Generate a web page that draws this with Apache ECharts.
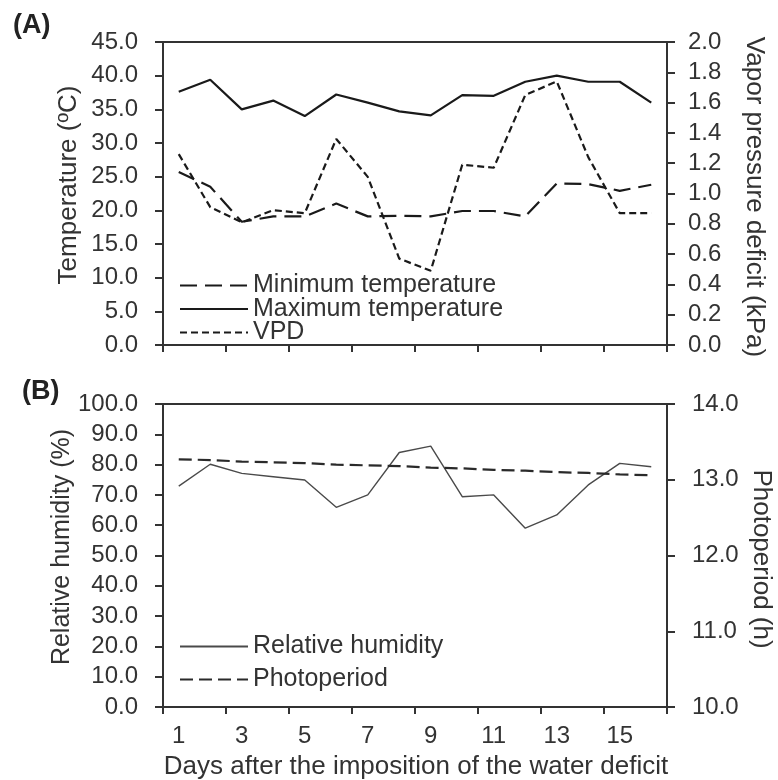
<!DOCTYPE html>
<html>
<head>
<meta charset="utf-8">
<script src="https://cdn.jsdelivr.net/npm/echarts@6/dist/echarts.min.js"></script>
<style>
html,body{margin:0;padding:0;background:#fff;}
#chart{width:778px;height:780px;}
</style>
</head>
<body>
<div id="chart"></div>
<script>
var days = ['1','2','3','4','5','6','7','8','9','10','11','12','13','14','15','16'];
var minTemp = [25.7, 23.5, 18.3, 19.1, 19.1, 21.0, 19.1, 19.2, 19.1, 19.9, 19.9, 19.1, 24.0, 23.9, 22.9, 23.8];
var maxTemp = [37.6, 39.4, 35.0, 36.3, 34.0, 37.2, 36.0, 34.7, 34.1, 37.1, 37.0, 39.1, 40.0, 39.1, 39.1, 36.0];
var vpd = [1.26, 0.91, 0.81, 0.89, 0.87, 1.36, 1.11, 0.57, 0.49, 1.19, 1.17, 1.65, 1.74, 1.24, 0.87, 0.87];
var relHumidity = [72.9, 80.1, 77.1, 76.0, 74.9, 65.9, 70.0, 84.0, 86.1, 69.4, 70.0, 59.0, 63.4, 73.3, 80.4, 79.3];
var photoperiod = [13.27, 13.26, 13.24, 13.23, 13.22, 13.20, 13.19, 13.18, 13.16, 13.15, 13.13, 13.12, 13.10, 13.09, 13.07, 13.06];

var FONT = "'Liberation Sans', Arial, sans-serif";
var TXT = '#333';
var AX = '#333';

function yAxisCfg(opts) {
  return Object.assign({
    type: 'value',
    axisLine: {show: true, lineStyle: {color: AX, width: 2}},
    axisTick: {show: true, length: 8, lineStyle: {color: AX, width: 2}},
    splitLine: {show: false}
  }, opts);
}
function xAxisCfg(opts) {
  return Object.assign({
    type: 'category',
    data: days,
    boundaryGap: true,
    axisLine: {show: true, lineStyle: {color: AX, width: 2}},
    axisTick: {show: true, interval: 1, length: 7, lineStyle: {color: AX, width: 2}},
    splitLine: {show: false}
  }, opts);
}
function fmt1(v) { return v.toFixed(1); }

var chart = echarts.init(document.getElementById('chart'), null, {renderer: 'canvas'});
var option = {
  backgroundColor: '#fff',
  animation: false,
  textStyle: {fontFamily: FONT, color: TXT},
  grid: [
    {left: 163, right: 111, top: 42, height: 303, show: true, borderColor: AX, borderWidth: 2, backgroundColor: 'transparent'},
    {left: 163, right: 111, top: 404, height: 303, show: true, borderColor: AX, borderWidth: 2, backgroundColor: 'transparent'}
  ],
  xAxis: [
    xAxisCfg({gridIndex: 0, axisLabel: {show: false}}),
    xAxisCfg({gridIndex: 1, axisLabel: {show: true, interval: 1, color: TXT, fontSize: 24, fontFamily: FONT, margin: 17}})
  ],
  yAxis: [
    yAxisCfg({gridIndex: 0, min: 0, max: 45, interval: 5, position: 'left', axisLabel: {color: TXT, fontSize: 24, fontFamily: FONT, margin: 25, formatter: fmt1}}),
    yAxisCfg({gridIndex: 0, min: 0, max: 2, interval: 0.2, position: 'right', axisLabel: {color: TXT, fontSize: 24, fontFamily: FONT, margin: 21, formatter: fmt1}}),
    yAxisCfg({gridIndex: 1, min: 0, max: 100, interval: 10, position: 'left', axisLabel: {color: TXT, fontSize: 24, fontFamily: FONT, margin: 25, formatter: fmt1}}),
    yAxisCfg({gridIndex: 1, min: 10, max: 14, interval: 1, position: 'right', axisLabel: {color: TXT, fontSize: 24, fontFamily: FONT, margin: 25, formatter: fmt1}})
  ],
  legend: [
    {
      data: ['Minimum temperature', 'Maximum temperature', 'VPD'],
      orient: 'vertical', left: 174, top: 268,
      itemWidth: 68, itemHeight: 14, itemGap: -1.5,
      itemStyle: {opacity: 0},
      textStyle: {fontSize: 25, fontFamily: FONT, color: TXT, lineHeight: 23},
      selectedMode: false
    },
    {
      data: ['Relative humidity', 'Photoperiod'],
      orient: 'vertical', left: 174, top: 629,
      itemWidth: 68, itemHeight: 14, itemGap: 8,
      itemStyle: {opacity: 0},
      textStyle: {fontSize: 25, fontFamily: FONT, color: TXT, lineHeight: 23},
      selectedMode: false
    }
  ],
  series: [
    {name: 'Minimum temperature', type: 'line', xAxisIndex: 0, yAxisIndex: 0, data: minTemp,
     showSymbol: false, symbol: 'none', color: '#1a1a1a',
     lineStyle: {color: '#1a1a1a', width: 2.2, type: [17, 8]}},
    {name: 'Maximum temperature', type: 'line', xAxisIndex: 0, yAxisIndex: 0, data: maxTemp,
     showSymbol: false, symbol: 'none', color: '#1a1a1a',
     lineStyle: {color: '#1a1a1a', width: 2.2, type: 'solid'}},
    {name: 'VPD', type: 'line', xAxisIndex: 0, yAxisIndex: 1, data: vpd,
     showSymbol: false, symbol: 'none', color: '#1a1a1a',
     lineStyle: {color: '#1a1a1a', width: 2.2, type: [7, 4]}},
    {name: 'Relative humidity', type: 'line', xAxisIndex: 1, yAxisIndex: 2, data: relHumidity,
     showSymbol: false, symbol: 'none', color: '#4a4a4a',
     lineStyle: {color: '#4a4a4a', width: 1.4, type: 'solid'}},
    {name: 'Photoperiod', type: 'line', xAxisIndex: 1, yAxisIndex: 3, data: photoperiod,
     showSymbol: false, symbol: 'none', color: '#2a2a2a',
     lineStyle: {color: '#2a2a2a', width: 2.2, type: [13, 6]}}
  ],
  graphic: [
    {type: 'text', left: 13, top: 12, style: {text: '(A)', font: 'bold 27px ' + FONT, fill: '#222'}},
    {type: 'text', left: 22, top: 378, style: {text: '(B)', font: 'bold 27px ' + FONT, fill: '#222'}},
    {type: 'text', x: 69, y: 185, rotation: Math.PI / 2, style: {text: 'Temperature (ºC)', font: '26px ' + FONT, fill: TXT, align: 'center', verticalAlign: 'middle'}},
    {type: 'text', x: 754, y: 197, rotation: -Math.PI / 2, style: {text: 'Vapor pressure deficit (kPa)', font: '26px ' + FONT, fill: TXT, align: 'center', verticalAlign: 'middle'}},
    {type: 'text', x: 62, y: 547, rotation: Math.PI / 2, style: {text: 'Relative humidity (%)', font: '25px ' + FONT, fill: TXT, align: 'center', verticalAlign: 'middle'}},
    {type: 'text', x: 761, y: 559, rotation: -Math.PI / 2, style: {text: 'Photoperiod (h)', font: '26px ' + FONT, fill: TXT, align: 'center', verticalAlign: 'middle'}},
    {type: 'text', x: 416, y: 767, style: {text: 'Days after the imposition of the water deficit', font: '26px ' + FONT, fill: TXT, align: 'center', verticalAlign: 'middle'}}
  ]
};
chart.setOption(option);
</script>
</body>
</html>
